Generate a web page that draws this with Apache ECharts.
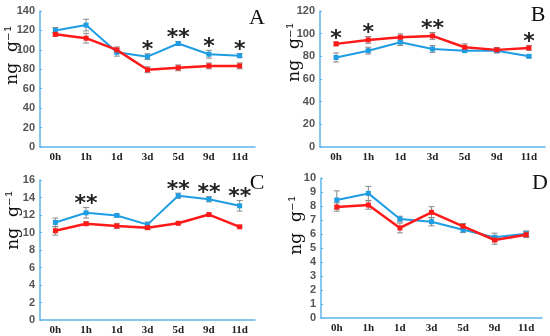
<!DOCTYPE html>
<html><head><meta charset="utf-8">
<script src="https://cdn.jsdelivr.net/npm/echarts@6/dist/echarts.min.js"></script>
<style>html,body{margin:0;padding:0;background:#fff}#c{width:550px;height:336px}</style>
</head><body><div id="c"></div>
<script>
const categories = ['0h','1h','1d','3d','5d','9d','11d'];

const aBlue = [120, 125.5, 97.5, 93, 106.5, 95.5, 94];
const aBlueErr = [3, 6, 4, 3, 2, 4, 2];
const aRed = [116, 112, 100, 79.5, 81.5, 83.5, 83.5];
const aRedErr = [2, 5, 3, 3, 3, 3, 3];
const aStars = ['', '', '', '*', '**', '*', '*'];

const bBlue = [79, 85, 92.5, 86.5, 85, 85, 80];
const bBlueErr = [4, 3, 3, 3, 1, 2, 1];
const bRed = [91, 94.5, 96.8, 98, 88, 85.7, 87.4];
const bRedErr = [1.5, 3, 3, 3, 3, 2, 2];
const bStars = ['*', '*', '', '**', '', '', '*'];

const cBlue = [11.15, 12.25, 11.95, 10.9, 14.2, 13.8, 13.05];
const cBlueErr = [0.5, 0.6, 0.15, 0.3, 0.3, 0.3, 0.6];
const cRed = [10.2, 11.0, 10.75, 10.55, 11.05, 12.05, 10.65];
const cRedErr = [0.5, 0.2, 0.3, 0.2, 0.1, 0.1, 0.1];
const cStars = ['', '**', '', '', '**', '**', '**'];

const dBlue = [8.43, 8.9, 7.07, 6.88, 6.3, 5.76, 6.02];
const dBlueErr = [0.65, 0.5, 0.2, 0.3, 0.2, 0.3, 0.2];
const dRed = [7.93, 8.07, 6.43, 7.55, 6.55, 5.57, 5.95];
const dRedErr = [0.3, 0.3, 0.35, 0.4, 0.2, 0.3, 0.2];
const dStars = ['', '', '', '', '', '', ''];

const yMax = [140, 120, 16, 10];
const yInterval = [20, 20, 2, 1];
const panelLetters = ['A', 'B', 'C', 'D'];
const yName = 'ng  g⁻¹';

const panels = [
  {blue: aBlue, be: aBlueErr, red: aRed, re: aRedErr, stars: aStars},
  {blue: bBlue, be: bBlueErr, red: bRed, re: bRedErr, stars: bStars},
  {blue: cBlue, be: cBlueErr, red: cRed, re: cRedErr, stars: cStars},
  {blue: dBlue, be: dBlueErr, red: dRed, re: dRedErr, stars: dStars}
];

const grids = [
  {left: 40, top: 11, width: 215, height: 136},
  {left: 320, top: 11, width: 225, height: 136},
  {left: 40, top: 180, width: 215, height: 140},
  {left: 321, top: 178, width: 221, height: 140}
];
const nameCenters = [[13, 55], [295, 52], [14, 220], [297, 225]];
const letterPos = [[257, 18], [538, 15], [257, 183], [540, 183]];

const AXIS = '#5db4ea';
const BLUE = '#1f9de3';
const RED = '#ff1a1a';

const xAxes = [], yAxes = [], series = [], graphics = [];
panels.forEach((p, i) => {
  xAxes.push({
    gridIndex: i, type: 'category', data: categories,
    axisLine: {lineStyle: {color: AXIS, width: 1.5}},
    axisTick: {inside: true, length: 3, lineStyle: {color: AXIS}},
    axisLabel: {color: '#222', fontFamily: 'Liberation Serif', fontWeight: 'bold', fontSize: 11, margin: 5}
  });
  yAxes.push({
    gridIndex: i, type: 'value', min: 0, max: yMax[i], interval: yInterval[i],
    axisLine: {show: true, lineStyle: {color: AXIS, width: 1.5}},
    axisTick: {show: true, inside: true, length: 2, lineStyle: {color: AXIS}},
    splitLine: {show: false},
    axisLabel: {color: '#555', fontFamily: 'Liberation Sans', fontWeight: 'bold', fontSize: 11, margin: 5}
  });
  const mk = (vals, errs) => vals.map((v, k) => [k, v - errs[k], v + errs[k]]);
  const errSeries = (vals, errs) => ({
    type: 'custom', xAxisIndex: i, yAxisIndex: i, z: 1,
    data: mk(vals, errs),
    renderItem: (params, api) => {
      const lo = api.coord([api.value(0), api.value(1)]);
      const hi = api.coord([api.value(0), api.value(2)]);
      const w = 3;
      const st = {stroke: '#8a8a8a', lineWidth: 1};
      return {type: 'group', children: [
        {type: 'line', shape: {x1: lo[0], y1: lo[1], x2: hi[0], y2: hi[1]}, style: st},
        {type: 'line', shape: {x1: lo[0] - w, y1: lo[1], x2: lo[0] + w, y2: lo[1]}, style: st},
        {type: 'line', shape: {x1: hi[0] - w, y1: hi[1], x2: hi[0] + w, y2: hi[1]}, style: st}
      ]};
    }
  });
  series.push(errSeries(p.blue, p.be));
  series.push(errSeries(p.red, p.re));
  series.push({type: 'line', xAxisIndex: i, yAxisIndex: i, data: p.blue, z: 3,
    symbol: 'rect', symbolSize: 5, itemStyle: {color: BLUE},
    lineStyle: {color: BLUE, width: 2}, animation: false});
  series.push({type: 'line', xAxisIndex: i, yAxisIndex: i, data: p.red, z: 4,
    symbol: 'rect', symbolSize: 5, itemStyle: {color: RED},
    lineStyle: {color: RED, width: 2.5}, animation: false});
  const starData = p.stars.map((s, k) => [k, Math.max(p.blue[k] + p.be[k], p.red[k] + p.re[k]), s]);
  series.push({
    type: 'custom', xAxisIndex: i, yAxisIndex: i, z: 5,
    data: starData,
    renderItem: (params, api) => {
      const s = starData[params.dataIndex][2];
      if (!s) return null;
      const pt = api.coord([api.value(0), api.value(1)]);
      return {type: 'text', x: pt[0], y: pt[1] - 3,
        style: {text: s, fontSize: 22, fontWeight: 'bold', fontFamily: 'DejaVu Sans', fill: '#222',
          textAlign: 'center', textVerticalAlign: 'middle'}};
    }
  });
  graphics.push({
    type: 'text', x: nameCenters[i][0], y: nameCenters[i][1], rotation: Math.PI / 2,
    style: {text: yName, fontFamily: 'DejaVu Serif', fontSize: 17, fill: '#111',
      textAlign: 'center', textVerticalAlign: 'middle'}
  });
  graphics.push({
    type: 'text', x: letterPos[i][0], y: letterPos[i][1],
    style: {text: panelLetters[i], fontFamily: 'Liberation Serif', fontSize: 22, fill: '#111',
      textAlign: 'center', textVerticalAlign: 'middle'}
  });
});

const chart = echarts.init(document.getElementById('c'), null, {renderer: 'canvas'});
chart.setOption({
  animation: false,
  grid: grids,
  xAxis: xAxes,
  yAxis: yAxes,
  series: series,
  graphic: graphics
});
</script></body></html>
